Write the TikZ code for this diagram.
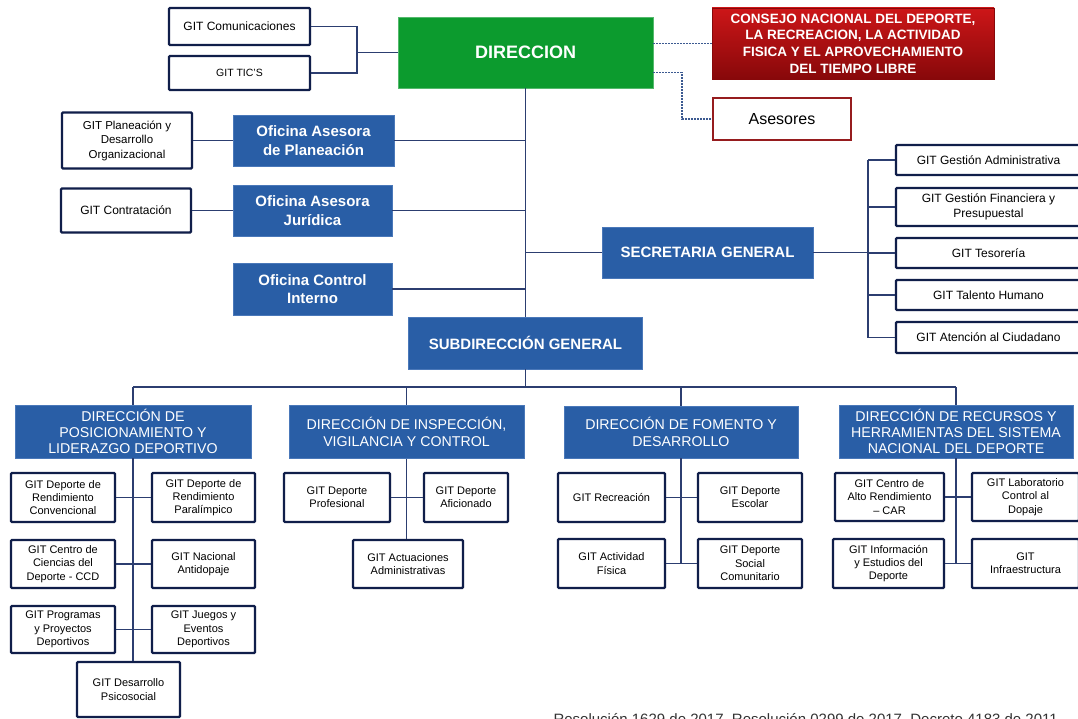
\documentclass[tikz,border=0pt]{standalone}
\usepackage{fontspec}
\setmainfont{Liberation Sans}
\usepackage{tikz}
\usetikzlibrary{positioning,calc,shadows}

\definecolor{navy}{RGB}{16,30,74}
\definecolor{linkcol}{RGB}{44,62,112}
\definecolor{blufill}{RGB}{41,94,166}
\definecolor{bluedge}{RGB}{74,120,185}
\definecolor{grnfill}{RGB}{12,155,46}
\definecolor{redtop}{RGB}{205,22,24}
\definecolor{redbot}{RGB}{135,8,10}
\definecolor{redline}{RGB}{150,28,30}
\definecolor{dashcol}{RGB}{60,90,145}

\begin{document}
\begin{tikzpicture}[x=1pt, y=-1pt,
  link/.style={draw=linkcol, line width=1.1pt},
  dashlink/.style={draw=dashcol, line width=1.2pt, dash pattern=on 2pt off 1pt},
  gitbox/.style={draw=navy, line width=2.2pt, fill=white, rounded corners=1pt, align=center, inner sep=1pt,
    drop shadow={shadow xshift=1pt, shadow yshift=-1pt, opacity=.25}},
  git/.style={gitbox, font=\fontsize{11}{13.3}\selectfont},
  gitmd/.style={gitbox, font=\fontsize{12}{15.5}\selectfont},
  office/.style={draw=bluedge, line width=.8pt, fill=blufill, text=white, align=center, inner sep=1pt,
    font=\bfseries\fontsize{15}{18.5}\selectfont},
  direc/.style={office, font=\fontsize{14.2}{16.3}\selectfont},
  ]
\clip (0,0) rectangle (1078,719);
\fill[white] (0,0) rectangle (1078,719);

\node[gitmd, minimum width=141, minimum height=37] (com) at (239.5,26.5) {GIT Comunicaciones};
\node[gitbox, font=\fontsize{10.5}{12}\selectfont, minimum width=141, minimum height=34] (tic) at (239.5,73) {GIT TIC'S};
\node[draw=grnfill!70!white, line width=.8pt, fill=grnfill, text=white, font=\bfseries\fontsize{18}{20}\selectfont,
  minimum width=255, minimum height=71] (dir) at (525.5,52.5) {DIRECCION};
\node[top color=redtop, bottom color=redbot, draw=redbot, text=white, align=center, inner sep=0pt,
  font=\bfseries\fontsize{13.5}{16.7}\selectfont, minimum width=282, minimum height=71,
  drop shadow={shadow xshift=1pt, shadow yshift=-1.5pt, opacity=.35}] (cons) at (853,43.5)
  {CONSEJO NACIONAL DEL DEPORTE,\\LA RECREACION, LA ACTIVIDAD\\FISICA Y EL APROVECHAMIENTO\\DEL TIEMPO LIBRE};
\node[draw=redline, line width=2.2pt, fill=white, font=\fontsize{16}{18}\selectfont, minimum width=138, minimum height=42,
  drop shadow={shadow xshift=1pt, shadow yshift=-1pt, opacity=.25}] (ases) at (782,119) {Asesores};

\node[gitbox, font=\fontsize{11.5}{14.5}\selectfont, minimum width=130, minimum height=56] (pla) at (127,140.5) {GIT Planeación y\\Desarrollo\\Organizacional};
\node[office, minimum width=161, minimum height=51] (ofpla) at (313.5,140.5) {Oficina Asesora\\de Planeación};
\node[gitmd, minimum width=130, minimum height=44] (contr) at (126,210.5) {GIT Contratación};
\node[office, minimum width=159, minimum height=51] (ofjur) at (312.5,210.5) {Oficina Asesora\\Jurídica};
\node[office, minimum width=159, minimum height=52] (ofci) at (312.5,289) {Oficina Control\\Interno};
\node[office, minimum width=211, minimum height=51] (sec) at (707.5,252.5) {SECRETARIA GENERAL};
\node[office, minimum width=234, minimum height=52] (sub) at (525.5,343) {SUBDIRECCIÓN GENERAL};

\foreach \nm/\yc/\hgt/\tx in {ga/160/30/{GIT Gestión Administrativa}, gf/207/38/{GIT Gestión Financiera y\\Presupuestal},
  tes/253/30/{GIT Tesorería}, th/295/30/{GIT Talento Humano}, ac/337.5/31/{GIT Atención al Ciudadano}}
  \node[gitmd, minimum width=185, minimum height=\hgt] (\nm) at (988.5,\yc) {\tx};

\node[direc, minimum width=236, minimum height=53] (dpl) at (133,431.5) {DIRECCIÓN DE\\POSICIONAMIENTO Y\\LIDERAZGO DEPORTIVO};
\node[direc, minimum width=235, minimum height=53] (divc) at (406.5,432) {DIRECCIÓN DE INSPECCIÓN,\\VIGILANCIA Y CONTROL};
\node[direc, minimum width=234, minimum height=52] (dfd) at (681,432) {DIRECCIÓN DE FOMENTO Y\\DESARROLLO};
\node[direc, minimum width=234, minimum height=53] (drh) at (956,431.5) {DIRECCIÓN DE RECURSOS Y\\HERRAMIENTAS DEL SISTEMA\\NACIONAL DEL DEPORTE};

\node[git, minimum width=104, minimum height=49] (drc) at (63,497.5) {GIT Deporte de\\Rendimiento\\Convencional};
\node[git, minimum width=103, minimum height=49] (drp) at (203.5,497.5) {GIT Deporte de\\Rendimiento\\Paralímpico};
\node[git, minimum width=104, minimum height=48] (ccd) at (63,564) {GIT Centro de\\Ciencias del\\Deporte - CCD};
\node[git, minimum width=103, minimum height=48] (nad) at (203.5,564) {GIT Nacional\\Antidopaje};
\node[git, minimum width=104, minimum height=47] (ppd) at (63,629.5) {GIT Programas\\y Proyectos\\Deportivos};
\node[git, minimum width=103, minimum height=47] (jed) at (203.5,629.5) {GIT Juegos y\\Eventos\\Deportivos};
\node[git, minimum width=103, minimum height=55] (dps) at (128.5,689.5) {GIT Desarrollo\\Psicosocial};

\node[git, minimum width=106, minimum height=49] (dpr) at (337,497.5) {GIT Deporte\\Profesional};
\node[git, minimum width=84, minimum height=49] (dpa) at (466,497.5) {GIT Deporte\\Aficionado};
\node[git, minimum width=110, minimum height=48] (aad) at (408,564) {GIT Actuaciones\\Administrativas};

\node[git, minimum width=107, minimum height=49] (rec) at (611.5,497.5) {GIT Recreación};
\node[git, minimum width=104, minimum height=49] (esc) at (750,497.5) {GIT Deporte\\Escolar};
\node[git, minimum width=107, minimum height=49] (afi) at (611.5,563.5) {GIT Actividad\\Física};
\node[git, minimum width=104, minimum height=49] (soc) at (750,563.5) {GIT Deporte\\Social\\Comunitario};

\node[git, minimum width=109, minimum height=48] (car) at (889.5,497) {GIT Centro de\\Alto Rendimiento\\– CAR};
\node[git, minimum width=107, minimum height=48] (lab) at (1025.5,497) {GIT Laboratorio\\Control al\\Dopaje};
\node[git, minimum width=111, minimum height=49] (ied) at (888.5,563.5) {GIT Información\\y Estudios del\\Deporte};
\node[git, minimum width=107, minimum height=49] (inf) at (1025.5,563.5) {GIT\\Infraestructura};

\node[anchor=base west, text=black!80, font=\fontsize{15}{18}\selectfont] (src) at (550,724)
  {Resolución 1629 de 2017, Resolución 0299 de 2017, Decreto 4183 de 2011};

\coordinate (jtop) at (357,52.5);
\coordinate (jas) at (682,100);
\coordinate (jsec) at (868,252.5);
\coordinate (jbus) at (525.5,387);

\draw[link] (com.east) -| (jtop) |- (tic.east);
\draw[link] (jtop) -- (dir.west);
\draw[dashlink] (dir.east |- cons.west) -- (cons.west);
\draw[dashlink] ([yshift=-20]dir.east) -| (jas) |- (ases.west);

\draw[link] (dir.south) -- (sub.north);
\draw[link] (ofpla.east) -- (ofpla.east -| dir.south);
\draw[link] (ofjur.east) -- (ofjur.east -| dir.south);
\draw[link] (ofci.east) -- (ofci.east -| dir.south);
\draw[link] (pla.east) -- (ofpla.west);
\draw[link] (contr.east) -- (ofjur.west);
\draw[link] (sec.west -| dir.south) -- (sec.west);

\draw[link] (sec.east) -- (jsec);
\draw[link] (ga.west -| jsec) -- (ac.west -| jsec);
\foreach \nm in {ga,gf,tes,th,ac}
  \draw[link] (\nm.west -| jsec) -- (\nm.west);

\draw[link] (sub.south) -- (jbus);
\draw[link] (dpl.north |- jbus) -- (drh.north |- jbus);
\foreach \nm in {dpl,divc,dfd,drh}
  \draw[link] (\nm.north |- jbus) -- (\nm.north);

\draw[link] (dpl.south) -- (dpl.south |- dps.north);
\draw[link] (drc.east) -- (drp.west);
\draw[link] (ccd.east) -- (nad.west);
\draw[link] (ppd.east) -- (jed.west);

\draw[link] (divc.south) -- (divc.south |- aad.north);
\draw[link] (dpr.east) -- (dpa.west);

\draw[link] (dfd.south) -- (dfd.south |- afi.east);
\draw[link] (rec.east) -- (esc.west);
\draw[link] (afi.east) -- (soc.west);

\draw[link] (drh.south) -- (drh.south |- ied.east);
\draw[link] (car.east) -- (lab.west);
\draw[link] (ied.east) -- (inf.west);
\end{tikzpicture}
\end{document}
